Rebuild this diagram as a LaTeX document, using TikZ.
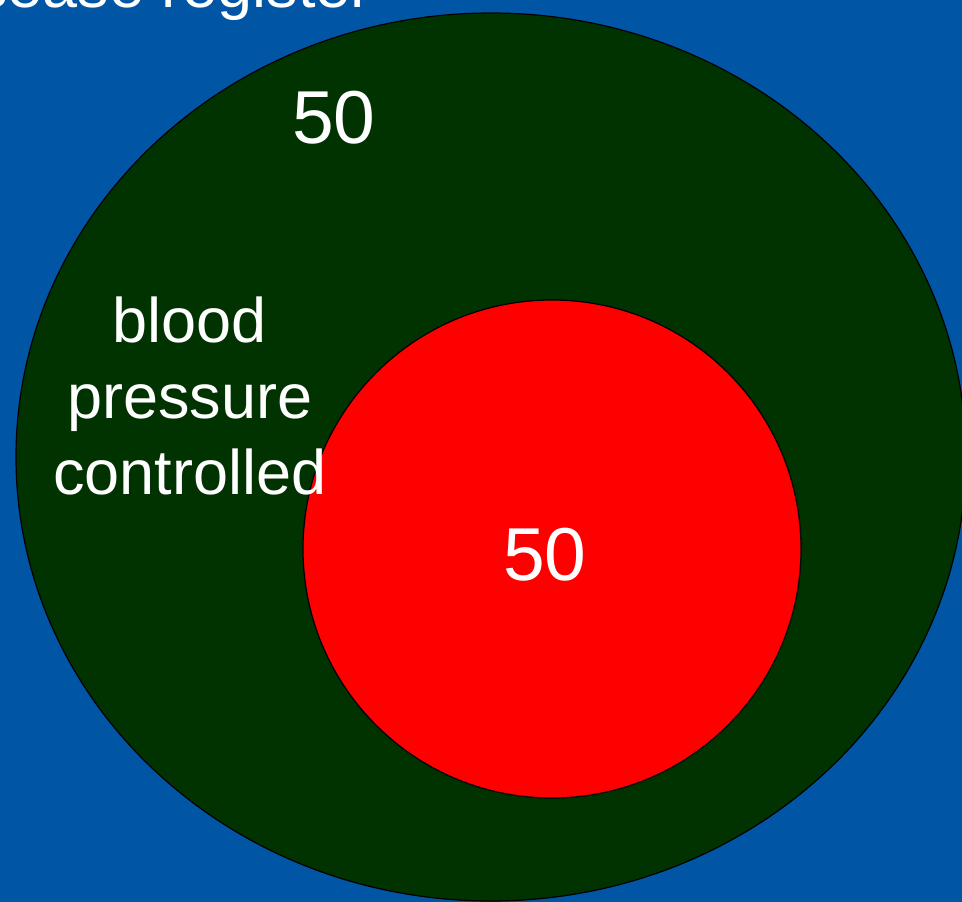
\documentclass[tikz,border=0pt]{standalone}
\usepackage{fontspec}
\setmainfont{Liberation Sans}
\definecolor{fondo}{RGB}{0,85,165}
\definecolor{verde}{RGB}{0,51,0}
\begin{document}
\begin{tikzpicture}[x=1pt, y=-1pt,
  etiqueta/.style={text=white, inner sep=0pt, font=\fontsize{63}{76}\selectfont},
  numero/.style={text=white, inner sep=0pt, font=\fontsize{75}{90}\selectfont}]
% Fondo
\clip (0,0) rectangle (962,902);
\fill[fondo] (0,0) rectangle (962,902);

% Registro
\filldraw[fill=verde, draw=black, line width=1.2pt] (491,457) ellipse [x radius=475, y radius=444];
\node[etiqueta, anchor=base east] (registro) at (372,8) {disease register};
\node[numero, anchor=base] (n1) at (334,143) {50};

% Controlados
\filldraw[fill=red, draw=black, line width=1.2pt] (552,549) circle (249);
\node[etiqueta, align=center, anchor=base] (control) at (190,494) {blood\\pressure\\controlled};
\node[numero, anchor=base] (n2) at (545,580) {50};
\end{tikzpicture}
\end{document}
